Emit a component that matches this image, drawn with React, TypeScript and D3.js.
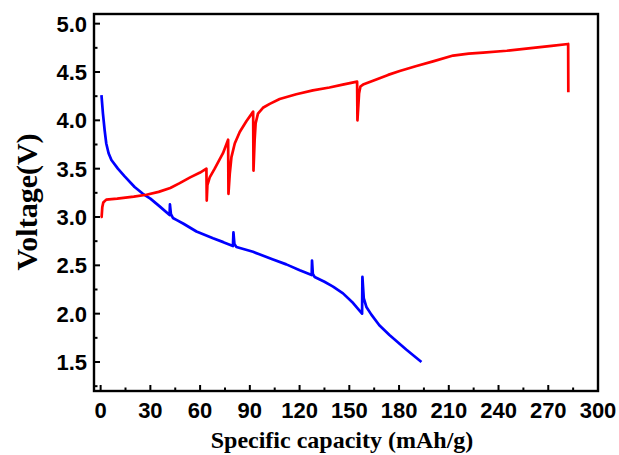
import React from "react";
import * as d3 from "d3";

// Charge curve (specific capacity in mAh/g, voltage in V)
const chargeCapacity = [
  0, 0.6, 1.0, 1.6, 3.4, 10, 20, 27.6, 35, 42, 47.7, 54, 60, 63.8,
  64.0, 64.4, 65.8, 68.8, 73.8, 76.9,
  77.1, 77.9, 78.9, 80.9, 83.9, 87.9, 92.0,
  92.2, 92.9, 93.5, 94.9, 97.9, 102, 108, 118, 128, 138, 146, 154.7,
  154.9, 155.9, 156.7, 158.3, 164.3, 173.4, 180.4, 190, 200.5, 212.6, 222,
  230.7, 245, 260.9, 272, 282, 282.1,
];
const chargeVoltage = [
  3.0, 3.0, 3.1, 3.15, 3.18, 3.19, 3.21, 3.23, 3.26, 3.3, 3.35, 3.41, 3.46, 3.5,
  3.17, 3.33, 3.41, 3.5, 3.66, 3.8,
  3.24, 3.45, 3.62, 3.76, 3.88, 3.99, 4.09,
  3.48, 3.8, 3.97, 4.07, 4.13, 4.17, 4.22, 4.27, 4.31, 4.34, 4.37, 4.4,
  4.0, 4.28, 4.35, 4.37, 4.41, 4.47, 4.51, 4.56, 4.61, 4.67, 4.69,
  4.7, 4.72, 4.75, 4.77, 4.79, 4.29,
];

// Discharge curve
const dischargeCapacity = [
  0.5, 1.4, 2.4, 3.4, 4.8, 6.5, 10.4, 14.5, 20.5, 25.5, 30, 35.6, 41.6,
  41.8, 42.4, 43.6, 45.7, 50, 57.8, 67.8, 74, 79.8,
  80.1, 80.7, 81.9, 91.9, 104, 112, 120.1, 127.3,
  127.5, 128.0, 129.1, 135, 140.2, 146.2, 152.3, 157.7,
  157.9, 158.7, 160.3, 163.3, 168.1, 174.2, 184.3, 193.5,
];
const dischargeVoltage = [
  4.26, 4.07, 3.9, 3.76, 3.66, 3.59, 3.5, 3.42, 3.31, 3.24, 3.19, 3.11, 3.02,
  3.13, 3.03, 2.99, 2.97, 2.93, 2.85, 2.78, 2.74, 2.7,
  2.84, 2.72, 2.69, 2.64, 2.56, 2.51, 2.45, 2.4,
  2.55, 2.41, 2.38, 2.33, 2.28, 2.21, 2.11, 2.0,
  2.38, 2.16, 2.07, 1.99, 1.88, 1.78, 1.63, 1.5,
];

const xMajorTicks = [0, 30, 60, 90, 120, 150, 180, 210, 240, 270, 300];
const xMinorTicks = [15, 45, 75, 105, 135, 165, 195, 225, 255, 285];
const yMajorTicks = [1.5, 2.0, 2.5, 3.0, 3.5, 4.0, 4.5, 5.0];
const yMinorTicks = [1.25, 1.75, 2.25, 2.75, 3.25, 3.75, 4.25, 4.75];

const W = 619;
const H = 455;
const plot = { left: 94, right: 598, top: 14, bottom: 391 };

export default function App() {
  const x = d3.scaleLinear().domain([-4, 300]).range([plot.left, plot.right]);
  const y = d3.scaleLinear().domain([1.2, 5.1]).range([plot.bottom, plot.top]);

  const line = d3
    .line<[number, number]>()
    .x((d) => x(d[0]))
    .y((d) => y(d[1]));

  const charge = chargeCapacity.map((c, i) => [c, chargeVoltage[i]] as [number, number]);
  const discharge = dischargeCapacity.map((c, i) => [c, dischargeVoltage[i]] as [number, number]);

  const tickFont = {
    fontFamily: "'Liberation Sans', Arial, sans-serif",
    fontWeight: 700,
    fontSize: 22,
  } as const;
  const titleFont = {
    fontFamily: "'Liberation Serif', 'Times New Roman', serif",
    fontWeight: 700,
  } as const;

  return (
    <svg
      width={W}
      height={H}
      style={{ position: "absolute", left: 0, top: 0, background: "#fff" }}
    >
      <rect x={0} y={0} width={W} height={H} fill="#fff" />

      {/* curves */}
      <path d={line(discharge) || ""} fill="none" stroke="#0000ff" strokeWidth={2.7} strokeLinejoin="round" />
      <path d={line(charge) || ""} fill="none" stroke="#ff0000" strokeWidth={2.7} strokeLinejoin="round" />

      {/* frame */}
      <rect
        x={plot.left}
        y={plot.top}
        width={plot.right - plot.left}
        height={plot.bottom - plot.top}
        fill="none"
        stroke="#000"
        strokeWidth={2.4}
      />

      {/* x ticks */}
      {xMajorTicks.map((t) => (
        <line key={"xM" + t} x1={x(t)} x2={x(t)} y1={plot.bottom} y2={plot.bottom - 6} stroke="#000" strokeWidth={2} />
      ))}
      {xMinorTicks.map((t) => (
        <line key={"xm" + t} x1={x(t)} x2={x(t)} y1={plot.bottom} y2={plot.bottom - 3.5} stroke="#000" strokeWidth={2} />
      ))}
      {xMajorTicks.map((t) => (
        <text key={"xl" + t} x={x(t)} y={418} textAnchor="middle" {...tickFont}>
          {t}
        </text>
      ))}

      {/* y ticks */}
      {yMajorTicks.map((t) => (
        <line key={"yM" + t} x1={plot.left} x2={plot.left + 6} y1={y(t)} y2={y(t)} stroke="#000" strokeWidth={2} />
      ))}
      {yMinorTicks.map((t) => (
        <line key={"ym" + t} x1={plot.left} x2={plot.left + 3.5} y1={y(t)} y2={y(t)} stroke="#000" strokeWidth={2} />
      ))}
      {yMajorTicks.map((t) => (
        <text key={"yl" + t} x={87} y={y(t)} dy="0.36em" textAnchor="end" {...tickFont}>
          {t.toFixed(1)}
        </text>
      ))}

      {/* axis titles */}
      <text x={342} y={448} textAnchor="middle" fontSize={24} {...titleFont}>
        Specific capacity (mAh/g)
      </text>
      <text
        transform={`translate(37, 202) rotate(-90)`}
        textAnchor="middle"
        fontSize={30}
        {...titleFont}
      >
        Voltage(V)
      </text>
    </svg>
  );
}
